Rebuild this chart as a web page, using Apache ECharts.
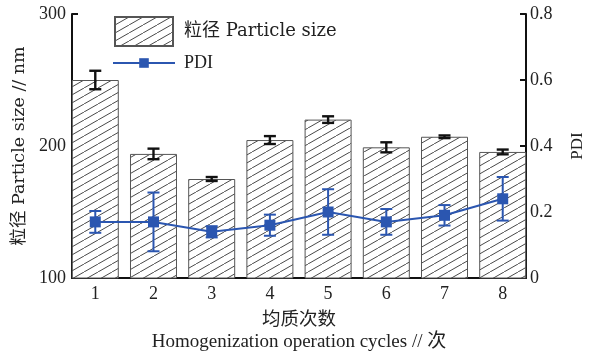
<!DOCTYPE html>
<html>
<head>
<meta charset="utf-8">
<script src="https://cdn.jsdelivr.net/npm/echarts@6/dist/echarts.min.js"></script>
<style>html,body{margin:0;padding:0;background:#fff;}#c{width:595px;height:354px;}</style>
</head>
<body>
<div id="c"></div>
<script>
// ---- data ----
const cycles = [1, 2, 3, 4, 5, 6, 7, 8];
const sizeMean = [250, 194, 175, 204.5, 220, 199, 207, 195.5];
const sizeErr = [7, 4, 1.5, 3, 2.5, 3.8, 1, 1.8];
const pdiMean = [0.17, 0.17, 0.14, 0.16, 0.20, 0.17, 0.19, 0.24];
const pdiErr = [0.033, 0.089, 0.017, 0.032, 0.069, 0.039, 0.031, 0.066];
const leftTicks = [100, 200, 300];
const rightTicks = [0, 0.2, 0.4, 0.6, 0.8];

const NUM = '"Liberation Serif", "Noto Sans CJK SC", serif';
const TXT = '"DejaVu Serif", "Noto Sans CJK SC", serif';
const BLUE = '#2B56B0';
const INK = '#222';

// hatch pattern
function hatch() {
  const w = 14, h = 8;
  const c = document.createElement('canvas');
  c.width = w; c.height = h;
  const g = c.getContext('2d');
  g.fillStyle = '#fff'; g.fillRect(0, 0, w, h);
  g.strokeStyle = '#333'; g.lineWidth = 0.9;
  g.beginPath();
  for (const dx of [-w, 0, w]) { g.moveTo(dx, h); g.lineTo(dx + w, 0); }
  g.stroke();
  return c;
}
const pattern = { image: hatch(), repeat: 'repeat' };

function errRender(color, lw) {
  return function (params, api) {
    const x = api.value(0), lo = api.value(1), hi = api.value(2);
    const a = api.coord([x, lo]), b = api.coord([x, hi]);
    const cw = 6;
    const st = { stroke: color, lineWidth: lw };
    return {
      type: 'group',
      children: [
        { type: 'line', shape: { x1: a[0], y1: a[1], x2: b[0], y2: b[1] }, style: st },
        { type: 'line', shape: { x1: a[0] - cw, y1: a[1], x2: a[0] + cw, y2: a[1] }, style: st },
        { type: 'line', shape: { x1: b[0] - cw, y1: b[1], x2: b[0] + cw, y2: b[1] }, style: st }
      ]
    };
  };
}

const chart = echarts.init(document.getElementById('c'));
chart.setOption({
  animation: false,
  backgroundColor: '#fff',
  textStyle: { fontFamily: NUM },
  grid: { left: 72, right: 69, top: 14, bottom: 76 },
  legend: [
    {
      data: [{ name: '粒径 Particle size', icon: 'rect' }], left: 114, top: 16, padding: 0,
      itemWidth: 58, itemHeight: 29,
      textStyle: { fontFamily: TXT, fontSize: 18, color: INK, padding: [0, 0, 0, 6] }
    },
    {
      data: ['PDI'], left: 112, top: 54, padding: 0, itemWidth: 62, itemHeight: 12,
      textStyle: { fontFamily: NUM, fontSize: 18, color: INK, padding: [0, 0, 0, 4] }
    }
  ],
  xAxis: {
    type: 'value', min: 0.6, max: 8.4,
    axisLine: { show: true, onZero: false, lineStyle: { color: '#111', width: 2 } },
    axisTick: { show: false },
    splitLine: { show: false },
    axisLabel: { customValues: cycles, fontSize: 18, color: INK, margin: 7, fontFamily: NUM }
  },
  yAxis: [
    {
      type: 'value', min: leftTicks[0], max: leftTicks[leftTicks.length - 1], interval: 100,
      name: '粒径 Particle size // nm', nameLocation: 'middle', nameGap: 39,
      nameTextStyle: { fontSize: 17.5, color: INK, fontFamily: TXT },
      axisLine: { show: true, lineStyle: { color: '#111', width: 2 } },
      axisTick: { show: true, inside: true, length: 6, lineStyle: { color: '#111', width: 2 } },
      splitLine: { show: false },
      axisLabel: { fontSize: 18, color: INK, margin: 6, fontFamily: NUM }
    },
    {
      type: 'value', min: rightTicks[0], max: rightTicks[rightTicks.length - 1], interval: 0.2, position: 'right',
      name: 'PDI', nameLocation: 'middle', nameGap: 43,
      nameTextStyle: { fontSize: 17, color: INK, fontFamily: NUM },
      axisLine: { show: true, lineStyle: { color: '#111', width: 2 } },
      axisTick: { show: true, inside: true, length: 6, lineStyle: { color: '#111', width: 2 } },
      splitLine: { show: false },
      axisLabel: {
        fontSize: 18, color: INK, margin: 4, fontFamily: NUM,
        formatter: v => (v === 0 ? '0' : v.toFixed(1))
      }
    }
  ],
  series: [
    {
      name: '粒径 Particle size', type: 'bar', barWidth: 47, z: 2,
      data: cycles.map((c, i) => [c, sizeMean[i]]),
      itemStyle: { color: pattern, borderColor: '#555', borderWidth: 1 }
    },
    {
      type: 'custom', z: 3, renderItem: errRender('#111', 2.4),
      data: cycles.map((c, i) => [c, sizeMean[i] - sizeErr[i], sizeMean[i] + sizeErr[i]])
    },
    {
      type: 'custom', z: 4, yAxisIndex: 1, renderItem: errRender(BLUE, 2),
      data: cycles.map((c, i) => [c, pdiMean[i] - pdiErr[i], pdiMean[i] + pdiErr[i]])
    },
    {
      name: 'PDI', type: 'line', yAxisIndex: 1, z: 5,
      data: cycles.map((c, i) => [c, pdiMean[i]]),
      symbol: 'rect', symbolSize: 11,
      lineStyle: { color: BLUE, width: 2 },
      itemStyle: { color: BLUE }
    }
  ],
  graphic: [
    { type: 'text', x: 299, y: 320, style: { text: '均质次数', font: '18.5px ' + TXT, fill: INK, align: 'center', verticalAlign: 'middle' } },
    { type: 'text', x: 299, y: 342, style: { text: 'Homogenization operation cycles // 次', font: '19px ' + NUM, fill: INK, align: 'center', verticalAlign: 'middle' } }
  ]
});
</script>
</body>
</html>
